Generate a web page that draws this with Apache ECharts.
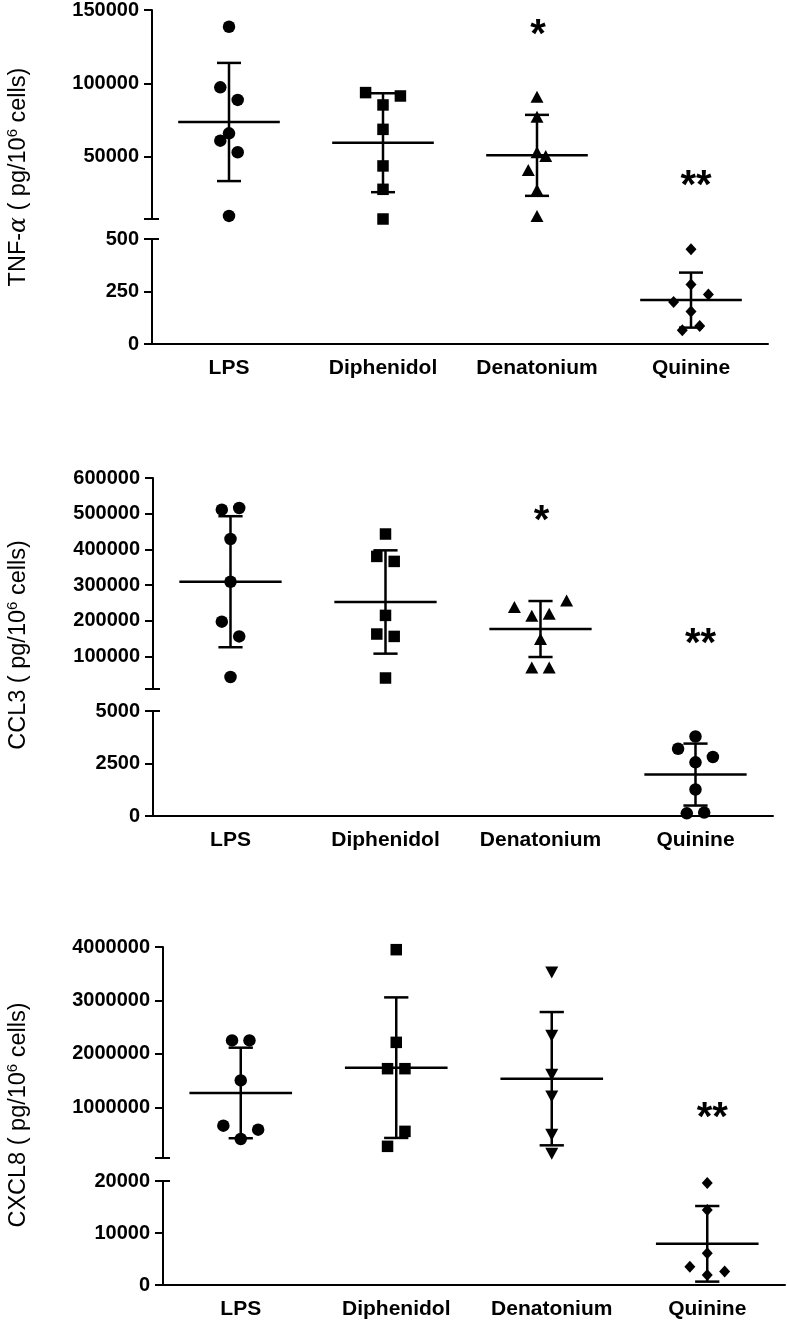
<!DOCTYPE html>
<html><head><meta charset="utf-8">
<script src="https://cdn.jsdelivr.net/npm/echarts@6.0.0/dist/echarts.min.js"></script>
<style>html,body{margin:0;padding:0;background:#fff}#c{width:787px;height:1323px}</style>
</head><body><div id="c"></div><script>
const categories = ['LPS', 'Diphenidol', 'Denatonium', 'Quinine'];

// ---- TNF-alpha ----
const tnf_LPS = [138600, 97400, 88800, 66100, 61100, 53200, 9900];
const tnf_Diphenidol = [93800, 91500, 85400, 68800, 43900, 28000, 7800];
const tnf_Denatonium = [91000, 77400, 53200, 50700, 41200, 27500, 9900];
const tnf_Quinine = [451, 283, 236, 200, 155, 86, 66];
const tnfJitter = [[0,-1,1,0,-1,1,0], [-2,2,0,0,0,0,0], [0,0,0,1,-1,0,0], [0,0,2,-2,0,1,-1]];
const tnfMean = [73800, 59700, 51100, 209];
const tnfSD = [40200, 33650, 27550, 131];
const tnfTopRange = [7800, 150000];
const tnfTopTicks = [50000, 100000, 150000];
const tnfBottomRange = [0, 500];
const tnfBottomTicks = [0, 250, 500];
const tnfSignificance = [['Denatonium', '*', 138500], ['Quinine', '**', 35900]];

// ---- CCL3 ----
const ccl3_LPS = [511200, 516000, 429100, 309500, 197500, 156300, 42600];
const ccl3_Diphenidol = [443100, 380400, 366400, 215200, 163000, 156300, 39800];
const ccl3_Denatonium = [238700, 257200, 214300, 220000, 149000, 69500, 69500];
const ccl3_Quinine = [3784, 3203, 2810, 2555, 1263, 128, 161];
const ccl3Jitter = [[-1,1,0,0,-1,1,0], [0,-1,1,0,-1,1,0], [-3,3,-1,1,0,-1,1], [0,-2,2,0,0,-1,1]];
const ccl3Mean = [309500, 252700, 177000, 1973];
const ccl3SD = [183500, 144700, 78400, 1475];
const ccl3TopRange = [9000, 600000];
const ccl3TopTicks = [100000, 200000, 300000, 400000, 500000, 600000];
const ccl3BottomRange = [0, 5000];
const ccl3BottomTicks = [0, 2500, 5000];
const ccl3Significance = [['Denatonium', '*', 502800], ['Quinine', '**', 158300]];

// ---- CXCL8 ----
const cxcl8_LPS = [2254000, 2254000, 1506000, 659700, 585000, 411000];
const cxcl8_Diphenidol = [3950000, 2217000, 1725000, 1725000, 553000, 273000];
const cxcl8_Denatonium = [3525000, 2342000, 1613000, 1207000, 491000, 136000];
const cxcl8_Quinine = [19620, 14440, 6090, 3490, 2610, 1910];
const cxcl8Jitter = [[-1,1,0,-2,2,0], [0,0,-1,1,1,-1], [0,0,0,0,0,0], [0,0,0,-2,2,0]];
const cxcl8Mean = [1271000, 1744000, 1538000, 7920];
const cxcl8SD = [846500, 1314000, 1246000, 7270];
const cxcl8TopRange = [55000, 4000000];
const cxcl8TopTicks = [1000000, 2000000, 3000000, 4000000];
const cxcl8BottomRange = [0, 20000];
const cxcl8BottomTicks = [0, 10000, 20000];
const cxcl8Significance = [['Quinine', '**', 958800]];

const FONT = 'Liberation Sans, Arial, Helvetica, sans-serif';
const JIT = 8.7;

const panels = [
  { groups: [tnf_LPS, tnf_Diphenidol, tnf_Denatonium, tnf_Quinine], jitter: tnfJitter,
    mean: tnfMean, sd: tnfSD, topRange: tnfTopRange, topTicks: tnfTopTicks,
    botRange: tnfBottomRange, botTicks: tnfBottomTicks, sig: tnfSignificance,
    symbols: ['circle', 'rect', 'triangle', 'diamond'], rotate: [0, 0, 0, 0],
    box: { left: 152, width: 616, top: 10, topH: 209, botTop: 239, botH: 105 },
    title: '{a|TNF-}{g|\u03b1}{a| ( pg/10}{s|6}{a| cells)}', titleY: 177 },
  { groups: [ccl3_LPS, ccl3_Diphenidol, ccl3_Denatonium, ccl3_Quinine], jitter: ccl3Jitter,
    mean: ccl3Mean, sd: ccl3SD, topRange: ccl3TopRange, topTicks: ccl3TopTicks,
    botRange: ccl3BottomRange, botTicks: ccl3BottomTicks, sig: ccl3Significance,
    symbols: ['circle', 'rect', 'triangle', 'circle'], rotate: [0, 0, 0, 0],
    box: { left: 153, width: 620, top: 478, topH: 211, botTop: 711, botH: 105 },
    title: '{a|CCL3 ( pg/10}{s|6}{a| cells)}', titleY: 645 },
  { groups: [cxcl8_LPS, cxcl8_Diphenidol, cxcl8_Denatonium, cxcl8_Quinine], jitter: cxcl8Jitter,
    mean: cxcl8Mean, sd: cxcl8SD, topRange: cxcl8TopRange, topTicks: cxcl8TopTicks,
    botRange: cxcl8BottomRange, botTicks: cxcl8BottomTicks, sig: cxcl8Significance,
    symbols: ['circle', 'rect', 'triangle', 'diamond'], rotate: [0, 0, 180, 0],
    box: { left: 163, width: 622, top: 947, topH: 211, botTop: 1181, botH: 104 },
    title: '{a|CXCL8 ( pg/10}{s|6}{a| cells)}', titleY: 1115 }
];

const symbolSizes = { circle: 12.5, rect: 11.5, triangle: [13, 12], diamond: [11, 12] };
const black = '#000';

const grid = [], xAxis = [], yAxis = [], series = [], graphic = [];

function statsRender(params, api) {
  const c = api.value(0), m = api.value(1), s = api.value(2);
  const band = api.size([1, 0])[0];
  const pm = api.coord([c, m]), pu = api.coord([c, m + s]), pl = api.coord([c, m - s]);
  const hw = band * 0.33, cw = band * 0.078;
  const st = { stroke: black, lineWidth: 2.5 };
  return { type: 'group', children: [
    { type: 'line', shape: { x1: pm[0] - hw, y1: pm[1], x2: pm[0] + hw, y2: pm[1] }, style: st },
    { type: 'line', shape: { x1: pu[0], y1: pu[1], x2: pl[0], y2: pl[1] }, style: st },
    { type: 'line', shape: { x1: pu[0] - cw, y1: pu[1], x2: pu[0] + cw, y2: pu[1] }, style: st },
    { type: 'line', shape: { x1: pl[0] - cw, y1: pl[1], x2: pl[0] + cw, y2: pl[1] }, style: st }
  ]};
}

function sigRender(params, api) {
  const p = api.coord([api.value(0), api.value(1)]);
  const txt = params.context.texts[params.dataIndex];
  return { type: 'text', x: p[0] + (txt.length > 1 ? 5 : 1), y: p[1] + 9,
    style: { text: txt, font: 'bold 40px ' + FONT, fill: black, align: 'center', verticalAlign: 'middle' } };
}

panels.forEach((P, p) => {
  const b = P.box;
  grid.push({ left: b.left, width: b.width, top: b.top, height: b.topH, outerBoundsMode: 'none' });
  grid.push({ left: b.left, width: b.width, top: b.botTop, height: b.botH, outerBoundsMode: 'none' });
  xAxis.push({ type: 'category', data: categories, gridIndex: 2 * p, show: false });
  xAxis.push({ type: 'category', data: categories, gridIndex: 2 * p + 1,
    axisLine: { lineStyle: { color: black, width: 2 } },
    axisTick: { alignWithLabel: true, length: 8, lineStyle: { color: black, width: 2 } },
    axisLabel: { interval: 0, hideOverlap: false, color: black, fontWeight: 'bold', fontSize: 21, fontFamily: FONT, margin: 14 },
    splitLine: { show: false } });
  const lab = { color: black, fontWeight: 'bold', fontSize: 20, fontFamily: FONT, margin: 13, formatter: v => String(v) };
  // top main
  yAxis.push({ type: 'value', gridIndex: 2 * p, position: 'left', offset: 0, min: P.topRange[0], max: P.topRange[1],
    axisLine: { show: true, lineStyle: { color: black, width: 2 } },
    axisTick: { show: true, length: 8, lineStyle: { color: black, width: 2 }, customValues: [P.topRange[0]].concat(P.topTicks) },
    axisLabel: Object.assign({ customValues: P.topTicks }, lab), splitLine: { show: false } });
  // top break cap
  yAxis.push({ type: 'value', gridIndex: 2 * p, position: 'left', offset: 0, min: P.topRange[0], max: P.topRange[1],
    axisLine: { show: false }, axisLabel: { show: false }, splitLine: { show: false },
    axisTick: { show: true, inside: true, length: 7, lineStyle: { color: black, width: 2 }, customValues: [P.topRange[0]] } });
  // bottom main
  yAxis.push({ type: 'value', gridIndex: 2 * p + 1, position: 'left', offset: 0, min: P.botRange[0], max: P.botRange[1],
    axisLine: { show: true, lineStyle: { color: black, width: 2 } },
    axisTick: { show: true, length: 8, lineStyle: { color: black, width: 2 }, customValues: P.botTicks },
    axisLabel: Object.assign({ customValues: P.botTicks }, lab), splitLine: { show: false } });
  // bottom break cap
  yAxis.push({ type: 'value', gridIndex: 2 * p + 1, position: 'left', offset: 0, min: P.botRange[0], max: P.botRange[1],
    axisLine: { show: false }, axisLabel: { show: false }, splitLine: { show: false },
    axisTick: { show: true, inside: true, length: 7, lineStyle: { color: black, width: 2 }, customValues: [P.botRange[1]] } });

  const topStats = [], botStats = [];
  P.groups.forEach((vals, g) => {
    const sym = P.symbols[g];
    const topData = [], botData = [];
    vals.forEach((v, i) => {
      const item = { value: [g, v], symbolOffset: [P.jitter[g][i] * JIT, 0] };
      (v <= P.botRange[1] ? botData : topData).push(item);
    });
    [[topData, 2 * p, 4 * p], [botData, 2 * p + 1, 4 * p + 2]].forEach(([d, xi, yi]) => {
      if (!d.length) return;
      series.push({ type: 'scatter', xAxisIndex: xi, yAxisIndex: yi, data: d, clip: false,
        symbol: sym, symbolSize: symbolSizes[sym], symbolRotate: P.rotate[g],
        itemStyle: { color: black, opacity: 1 }, z: 3, silent: true });
    });
    (P.mean[g] <= P.botRange[1] ? botStats : topStats).push([g, P.mean[g], P.sd[g]]);
  });
  if (topStats.length) series.push({ type: 'custom', xAxisIndex: 2 * p, yAxisIndex: 4 * p, data: topStats, renderItem: statsRender, clip: false, z: 2, silent: true });
  if (botStats.length) series.push({ type: 'custom', xAxisIndex: 2 * p + 1, yAxisIndex: 4 * p + 2, data: botStats, renderItem: statsRender, clip: false, z: 2, silent: true });

  const texts = P.sig.map(s => s[1]);
  series.push({ type: 'custom', xAxisIndex: 2 * p, yAxisIndex: 4 * p,
    data: P.sig.map(s => [categories.indexOf(s[0]), s[2]]),
    renderItem: (params, api) => { params.context.texts = texts; return sigRender(params, api); },
    clip: false, z: 4, silent: true });

  graphic.push({ type: 'text', x: 19, y: P.titleY, rotation: Math.PI / 2,
    style: { text: P.title, align: 'center', verticalAlign: 'middle', fill: black,
      rich: {
        a: { fontSize: 23.5, fontFamily: FONT, fill: black, lineHeight: 28 },
        g: { fontSize: 23.5, fontFamily: 'DejaVu Serif', fontStyle: 'italic', fill: black, lineHeight: 28 },
        s: { fontSize: 15, fontFamily: FONT, fill: black, verticalAlign: 'top', lineHeight: 28 }
      } } });
});

const chart = echarts.init(document.getElementById('c'), null, { renderer: 'canvas' });
chart.setOption({
  animation: false,
  backgroundColor: '#fff',
  textStyle: { fontFamily: FONT },
  grid, xAxis, yAxis, series, graphic
});
</script></body></html>
